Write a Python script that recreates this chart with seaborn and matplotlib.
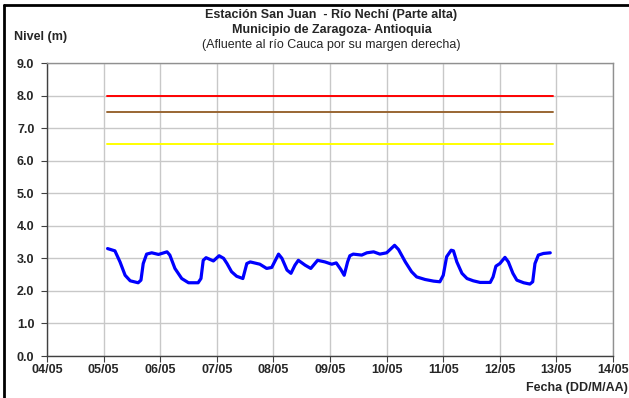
import matplotlib
matplotlib.use("Agg")
import matplotlib.pyplot as plt
import matplotlib.dates as mdates
from matplotlib.lines import Line2D
import seaborn as sns
import pandas as pd

# Nivel del río, días contados desde 04/05 00:00
dias = [1.07, 1.20, 1.29, 1.38, 1.47, 1.61, 1.66, 1.70, 1.76, 1.85, 1.97,
        2.12, 2.17, 2.26, 2.38, 2.50, 2.67, 2.72, 2.76, 2.81, 2.94, 3.04,
        3.12, 3.18, 3.26, 3.35, 3.46, 3.53, 3.59, 3.76, 3.88, 3.97, 4.09,
        4.15, 4.24, 4.31, 4.38, 4.44, 4.56, 4.66, 4.78, 4.91, 5.03, 5.11,
        5.19, 5.25, 5.31, 5.35, 5.41, 5.56, 5.65, 5.77, 5.88, 6.00, 6.14,
        6.21, 6.33, 6.44, 6.53, 6.68, 6.83, 6.94, 7.00, 7.06, 7.14, 7.18,
        7.24, 7.33, 7.42, 7.53, 7.65, 7.83, 7.88, 7.93, 8.00, 8.09, 8.15,
        8.23, 8.30, 8.42, 8.53, 8.58, 8.62, 8.68, 8.77, 8.89]
nivel = [3.30, 3.23, 2.89, 2.48, 2.31, 2.25, 2.33, 2.84, 3.13, 3.17, 3.12,
         3.20, 3.10, 2.69, 2.38, 2.25, 2.25, 2.38, 2.94, 3.02, 2.92, 3.08,
         3.00, 2.84, 2.59, 2.45, 2.38, 2.84, 2.89, 2.82, 2.69, 2.72, 3.13,
         3.00, 2.64, 2.54, 2.79, 2.94, 2.79, 2.69, 2.94, 2.89, 2.82, 2.86,
         2.66, 2.48, 2.89, 3.08, 3.13, 3.10, 3.17, 3.20, 3.13, 3.17, 3.40,
         3.27, 2.89, 2.59, 2.43, 2.35, 2.30, 2.28, 2.48, 3.05, 3.25, 3.23,
         2.89, 2.54, 2.38, 2.31, 2.26, 2.26, 2.43, 2.76, 2.84, 3.03, 2.89,
         2.54, 2.33, 2.25, 2.21, 2.28, 2.84, 3.10, 3.15, 3.17]

# Niveles de referencia (inicio, fin)
umbral_dias = [1.06, 8.94]
umbral_rojo = 8.0
umbral_naranja = 7.5
umbral_amarillo = 6.5

inicio = pd.Timestamp("2010-05-04")
df = pd.DataFrame({"fecha": inicio + pd.to_timedelta(dias, unit="D"),
                   "nivel": nivel})
t_umbral = inicio + pd.to_timedelta(umbral_dias, unit="D")

sns.set_style("whitegrid")
plt.rcParams["font.family"] = ["Liberation Sans", "DejaVu Sans"]

fig = plt.figure(figsize=(6.29, 3.98), dpi=100)
ax = fig.add_axes([0.0747, 0.1055, 0.90, 0.7362])

for nivel_ref, color in [(umbral_rojo, "#ff0000"),
                         (umbral_naranja, "#996633"),
                         (umbral_amarillo, "#ffff00")]:
    sns.lineplot(x=t_umbral, y=[nivel_ref, nivel_ref], color=color,
                 linewidth=1.4, ax=ax)

sns.lineplot(data=df, x="fecha", y="nivel", color="#0000ff",
             linewidth=2.3, ax=ax)

ax.set_xlim(inicio, inicio + pd.Timedelta(days=10))
ax.set_ylim(0, 9)
ax.set_yticks([i * 1.0 for i in range(10)])
ax.yaxis.set_major_formatter(plt.FormatStrFormatter("%.1f"))
ax.xaxis.set_major_locator(mdates.DayLocator())
ax.xaxis.set_major_formatter(mdates.DateFormatter("%d/%m"))

ax.grid(True, color="#c8c8c8", linewidth=1.0)
for s in ax.spines.values():
    s.set_color("#909090")
    s.set_linewidth(1.0)
ax.spines["left"].set_color("#404040")
ax.spines["bottom"].set_color("#404040")
ax.tick_params(axis="both", length=4, width=0.8, color="#404040",
               labelsize=9, direction="out", bottom=True, left=True)
ax.tick_params(axis="x", pad=2)
ax.tick_params(axis="y", pad=5)
for lab in ax.get_xticklabels() + ax.get_yticklabels():
    lab.set_fontweight("bold")
ax.set_xlabel("")
ax.set_ylabel("")

fig.text(0.527, 0.962, "Estación San Juan  - Río Nechí (Parte alta)",
         ha="center", va="center", fontsize=9, fontweight="bold")
fig.text(0.527, 0.925, "Municipio de Zaragoza- Antioquia",
         ha="center", va="center", fontsize=9, fontweight="bold")
fig.text(0.527, 0.886, "(Afluente al río Cauca por su margen derecha)",
         ha="center", va="center", fontsize=9)
fig.text(0.022, 0.907, "Nivel (m)", ha="left", va="center",
         fontsize=9, fontweight="bold")
fig.text(0.998, 0.025, "Fecha (DD/M/AA)", ha="right", va="center",
         fontsize=9, fontweight="bold")

# marco negro del gráfico
fig.add_artist(Line2D([0.0065, 0.0065], [0.0, 0.988], color="black",
                      linewidth=2.0, transform=fig.transFigure))
fig.add_artist(Line2D([0.0065, 1.0], [0.988, 0.988], color="black",
                      linewidth=2.0, transform=fig.transFigure))

fig.savefig("out.png", dpi=100)
